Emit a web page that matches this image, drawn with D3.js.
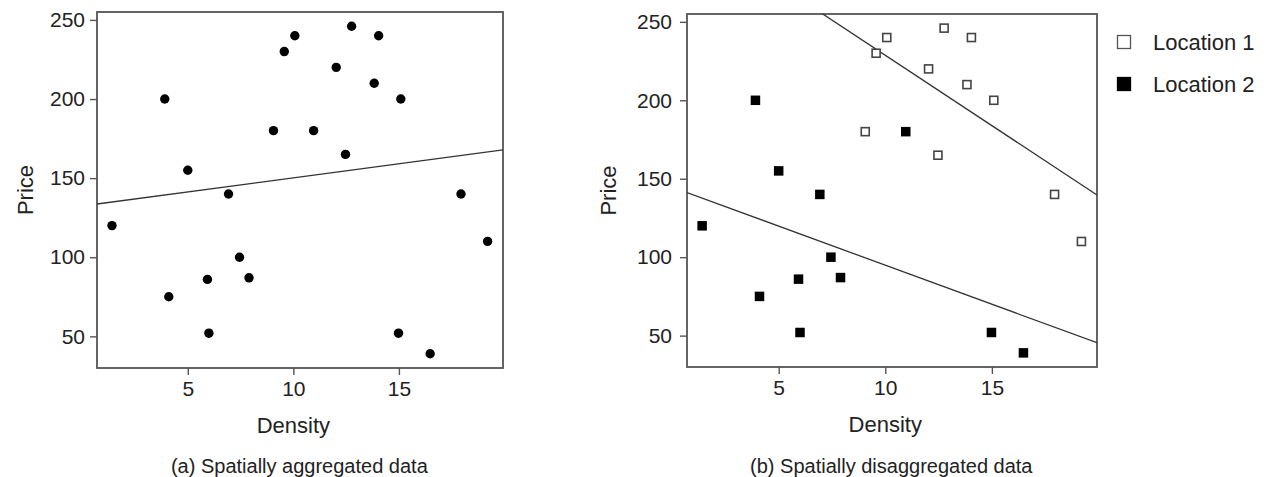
<!DOCTYPE html>
<html>
<head>
<meta charset="utf-8">
<script src="https://cdn.jsdelivr.net/npm/d3@7"></script>
<style>
  body { margin: 0; background: #fff; }
  svg { display: block; font-family: "Liberation Sans", Arial, sans-serif; }
  .tick text { fill: #222; }
</style>
</head>
<body>
<div id="svg-container"></div>
<script>
// Data
const loc1Density = [9.06, 9.57, 10.07, 12.03, 12.47, 12.76, 13.83, 14.04, 15.09, 17.94, 19.2];
const loc1Price = [180, 230, 240, 220, 165, 246, 210, 240, 200, 140, 110];
const loc2Density = [1.41, 3.91, 4.1, 5.0, 5.93, 6.0, 6.93, 7.45, 7.9, 10.96, 14.98, 16.48];
const loc2Price = [120, 200, 75, 155, 86, 52, 140, 100, 87, 180, 52, 39];

// fitted lines [intercept, slope]
const pooledFit = [132.4, 1.78];
const loc1Fit = [318.4, -8.97];
const loc2Fit = [144.7, -4.98];

const xTicks = [5, 10, 15];
const yTicks = [50, 100, 150, 200, 250];
const captions = ["(a) Spatially aggregated data", "(b) Spatially disaggregated data"];
const legendLabels = ["Location 1", "Location 2"];

const width = 1269, height = 477;
const svg = d3.select("#svg-container").append("svg")
  .attr("width", width).attr("height", height);

const loc1 = loc1Density.map((d, i) => ({ x: d, y: loc1Price[i] }));
const loc2 = loc2Density.map((d, i) => ({ x: d, y: loc2Price[i] }));
const all = loc1.concat(loc2);

function panel(id, box, caption) {
  const x = d3.scaleLinear().domain([0.7, 19.93]).range([box.left, box.right]);
  const y = d3.scaleLinear().domain([30, 255]).range([box.bottom, box.top]);
  const g = svg.append("g");

  g.append("clipPath").attr("id", "clip-" + id)
    .append("rect")
    .attr("x", box.left).attr("y", box.top)
    .attr("width", box.right - box.left).attr("height", box.bottom - box.top);

  g.append("g")
    .attr("transform", `translate(0,${box.bottom})`)
    .call(d3.axisBottom(x).tickValues(xTicks).tickSize(7).tickPadding(6))
    .call((a) => a.select(".domain").remove())
    .call((a) => a.selectAll("line").attr("stroke", "#555").attr("stroke-width", 1.4))
    .call((a) => a.selectAll("text").attr("font-size", 21).attr("font-family", null));

  g.append("g")
    .attr("transform", `translate(${box.left},0)`)
    .call(d3.axisLeft(y).tickValues(yTicks).tickSize(7).tickPadding(box.pad))
    .call((a) => a.select(".domain").remove())
    .call((a) => a.selectAll("line").attr("stroke", "#555").attr("stroke-width", 1.4))
    .call((a) => a.selectAll("text").attr("font-size", 21).attr("font-family", null));

  g.append("rect")
    .attr("x", box.left).attr("y", box.top)
    .attr("width", box.right - box.left).attr("height", box.bottom - box.top)
    .attr("fill", "none").attr("stroke", "#555").attr("stroke-width", 1.8);

  g.append("text")
    .attr("x", x(10)).attr("y", box.bottom + 65)
    .attr("text-anchor", "middle").attr("font-size", 22).attr("fill", "#222")
    .text("Density");

  g.append("text")
    .attr("transform", `translate(${box.left - box.priceOff},${(box.top + box.bottom) / 2}) rotate(-90)`)
    .attr("text-anchor", "middle").attr("font-size", 22).attr("fill", "#222")
    .text("Price");

  g.append("text")
    .attr("x", x(10) + 6).attr("y", 473)
    .attr("text-anchor", "middle").attr("font-size", 20).attr("fill", "#222")
    .text(caption);

  return { g, x, y };
}

function fitLine(p, fit, id) {
  const [x0, x1] = p.x.domain();
  p.g.append("line")
    .attr("clip-path", `url(#clip-${id})`)
    .attr("x1", p.x(x0)).attr("y1", p.y(fit[0] + fit[1] * x0))
    .attr("x2", p.x(x1)).attr("y2", p.y(fit[0] + fit[1] * x1))
    .attr("stroke", "#333").attr("stroke-width", 1.3);
}

// (a) aggregated
const pa = panel("a", { left: 97, right: 503, top: 12, bottom: 368, pad: 5, priceOff: 64 }, captions[0]);
fitLine(pa, pooledFit, "a");
pa.g.selectAll("circle").data(all).join("circle")
  .attr("cx", (d) => pa.x(d.x)).attr("cy", (d) => pa.y(d.y))
  .attr("r", 4.7).attr("fill", "#000");

// (b) disaggregated
const pb = panel("b", { left: 687, right: 1097, top: 14, bottom: 367, pad: 8, priceOff: 71 }, captions[1]);
fitLine(pb, loc1Fit, "b");
fitLine(pb, loc2Fit, "b");
const s1 = 8, s2 = 9.5;
pb.g.selectAll(".open").data(loc1).join("rect").attr("class", "open")
  .attr("x", (d) => pb.x(d.x) - s1 / 2).attr("y", (d) => pb.y(d.y) - s1 / 2)
  .attr("width", s1).attr("height", s1)
  .attr("fill", "#fff").attr("stroke", "#444").attr("stroke-width", 1.6);
pb.g.selectAll(".filled").data(loc2).join("rect").attr("class", "filled")
  .attr("x", (d) => pb.x(d.x) - s2 / 2).attr("y", (d) => pb.y(d.y) - s2 / 2)
  .attr("width", s2).attr("height", s2).attr("fill", "#000");

// legend
const legend = svg.append("g").attr("transform", "translate(1117,35)");
legendLabels.forEach((label, i) => {
  const row = legend.append("g").attr("transform", `translate(0,${i * 42})`);
  row.append("rect")
    .attr("x", 0.5).attr("y", 0.5).attr("width", 13).attr("height", 13)
    .attr("fill", i === 0 ? "#fff" : "#000")
    .attr("stroke", i === 0 ? "#555" : "#000").attr("stroke-width", 1.3);
  row.append("text").attr("x", 36).attr("y", 15)
    .attr("font-size", 22).attr("fill", "#222").text(label);
});
</script>
</body>
</html>
